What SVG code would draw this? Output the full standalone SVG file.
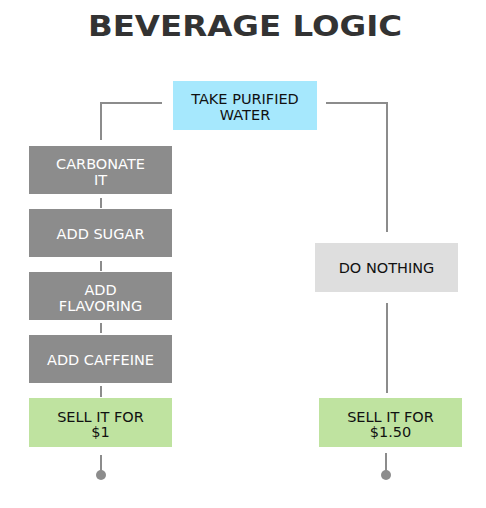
<svg xmlns="http://www.w3.org/2000/svg" width="486" height="508" viewBox="0 0 486 508">
<style>
.t{font-family:"DejaVu Sans","Liberation Sans",sans-serif;font-size:14.5px;text-anchor:middle}
.w{fill:#ffffff}
.d{fill:#111111}
.c{fill:none;stroke:#8c8c8c;stroke-width:2}
.g{fill:#8c8c8c}
.gr{fill:#bfe3a0}
</style>
<rect width="486" height="508" fill="#ffffff"/>
<text transform="translate(245,36) scale(1.16,1)" x="0" y="0" text-anchor="middle" font-family="'DejaVu Sans','Liberation Sans',sans-serif" font-weight="bold" font-size="28" fill="#333333">BEVERAGE LOGIC</text>
<g id="connectors">
<polyline class="c" points="162,103 101,103 101,140"/>
<polyline class="c" points="326,103 387,103 387,232"/>
<line class="c" x1="101" y1="198" x2="101" y2="208"/>
<line class="c" x1="101" y1="261" x2="101" y2="271"/>
<line class="c" x1="101" y1="323" x2="101" y2="333"/>
<line class="c" x1="101" y1="386" x2="101" y2="397"/>
<line class="c" x1="101" y1="455" x2="101" y2="474"/>
<circle cx="101" cy="475" r="5" fill="#8c8c8c"/>
<line class="c" x1="387" y1="303" x2="387" y2="393"/>
<line class="c" x1="386" y1="453" x2="386" y2="474"/>
<circle cx="386" cy="475" r="5" fill="#8c8c8c"/>
</g>
<g id="take-water">
<rect x="173" y="81" width="144" height="49" fill="#a6e8fd"/>
<text class="t d" x="245" y="104">TAKE PURIFIED</text>
<text class="t d" x="245" y="120">WATER</text>
</g>
<g id="carbonate">
<rect class="g" x="29" y="146" width="143" height="48"/>
<text class="t w" x="100.5" y="169">CARBONATE</text>
<text class="t w" x="100.5" y="184.5">IT</text>
</g>
<g id="sugar">
<rect class="g" x="29" y="209" width="143" height="48"/>
<text class="t w" x="100.5" y="239">ADD SUGAR</text>
</g>
<g id="flavoring">
<rect class="g" x="29" y="272" width="143" height="48"/>
<text class="t w" x="100.5" y="295">ADD</text>
<text class="t w" x="100.5" y="310.5">FLAVORING</text>
</g>
<g id="caffeine">
<rect class="g" x="29" y="335" width="143" height="48"/>
<text class="t w" x="100.5" y="364.5">ADD CAFFEINE</text>
</g>
<g id="sell-1">
<rect class="gr" x="29" y="398" width="143" height="49"/>
<text class="t d" x="100.5" y="421.5">SELL IT FOR</text>
<text class="t d" x="100.5" y="437">$1</text>
</g>
<g id="do-nothing">
<rect x="315" y="243" width="143" height="49" fill="#dedede"/>
<text class="t d" x="386.5" y="272.5">DO NOTHING</text>
</g>
<g id="sell-150">
<rect class="gr" x="319" y="398" width="143" height="49"/>
<text class="t d" x="390.5" y="421.5">SELL IT FOR</text>
<text class="t d" x="390.5" y="437">$1.50</text>
</g>
</svg>
